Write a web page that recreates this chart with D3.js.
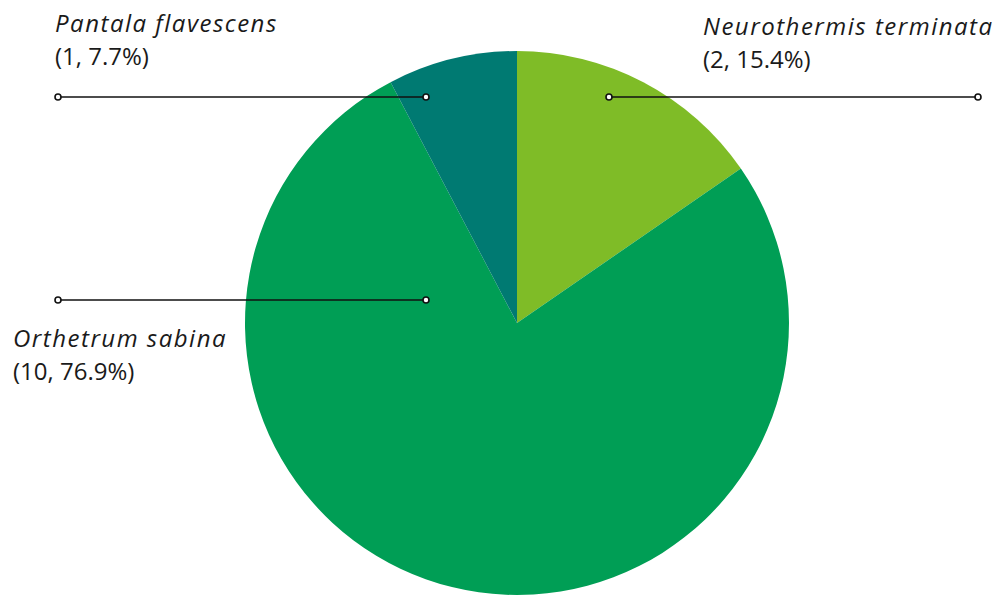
<!DOCTYPE html>
<html><head><meta charset="utf-8">
<script src="https://cdn.jsdelivr.net/npm/d3@7"></script>
<style>body{margin:0;background:#fff}svg{display:block}</style>
</head><body>
<svg id="c" width="999" height="595"></svg>
<script>
const categories = ["Neurothermis terminata", "Orthetrum sabina", "Pantala flavescens"];
const counts = [2, 10, 1];
const percents = ["15.4%", "76.9%", "7.7%"];
const colors = ["#7fbc27", "#009e55", "#007a72"];

const svg = d3.select("#c");
const cx = 517, cy = 323, R = 272;
const g = svg.append("g").attr("transform", `translate(${cx},${cy})`);
const pie = d3.pie().sort(null).value(d => d)(counts);
const arc = d3.arc().innerRadius(0).outerRadius(R);
g.selectAll("path").data(pie).enter().append("path")
  .attr("d", arc).attr("fill", (d, i) => colors[i]);

// label layout: [inner point, outer point, text x, first baseline]
const layout = [
  {p1: [609, 97], p2: [978, 97], tx: 703, ty: 35},
  {p1: [426, 300], p2: [58, 300], tx: 13, ty: 347},
  {p1: [426, 97], p2: [58, 97], tx: 55, ty: 32}
];
const lab = svg.append("g");
layout.forEach((L, i) => {
  lab.append("line").attr("x1", L.p1[0]).attr("y1", L.p1[1]).attr("x2", L.p2[0]).attr("y2", L.p2[1])
    .attr("stroke", "#111").attr("stroke-width", 1.6);
  [L.p1, L.p2].forEach(p => lab.append("circle").attr("cx", p[0]).attr("cy", p[1]).attr("r", 3)
    .attr("fill", "#fff").attr("stroke", "#111").attr("stroke-width", 1.6));
  const t = lab.append("text").attr("x", L.tx).attr("y", L.ty)
    .attr("font-family", "'Open Sans', sans-serif").attr("font-size", 24).attr("fill", "#1a1a1a");
  t.append("tspan").attr("font-style", "italic").attr("letter-spacing", 1.5).text(categories[i]);
  t.append("tspan").attr("x", L.tx).attr("dy", 33).text(`(${counts[i]}, ${percents[i]})`);
});
</script>
</body></html>
